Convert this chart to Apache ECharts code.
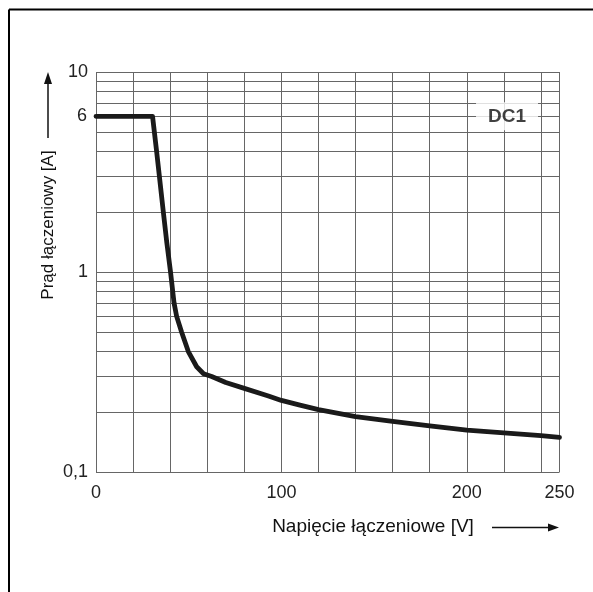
<!DOCTYPE html>
<html>
<head>
<meta charset="utf-8">
<script src="https://cdn.jsdelivr.net/npm/echarts@6/dist/echarts.min.js"></script>
<style>
html,body{margin:0;padding:0;background:#fff;}
#c{width:593px;height:592px;}
</style>
</head>
<body>
<div id="c"></div>
<script>
// ---- data ----
const voltage = [0, 30.5, 32.7, 34.2, 36.3, 38.2, 40.2, 42.1, 43.5, 46.2, 49.8, 54.3, 58, 62.4, 70, 80, 93, 100, 110, 120, 140, 160, 180, 200, 220, 240, 250];
const current = [6, 6, 4, 3, 2, 1.4, 1, 0.7, 0.6, 0.5, 0.4, 0.336, 0.31, 0.3, 0.28, 0.262, 0.24, 0.228, 0.216, 0.205, 0.189, 0.179, 0.17, 0.162, 0.157, 0.152, 0.149];
const xTickLabels = [0, 100, 200, 250];
const yTickLabels = {"0.1": "0,1", "1": "1", "10": "10"};
const minorLines = [0.2, 0.3, 0.4, 0.5, 0.6, 0.7, 0.8, 0.9, 2, 3, 4, 5, 6, 7, 8, 9];
const minorLabels = {"6": "6"};
const seriesName = "DC1";
const seriesLabelAt = [221.7, 6];
const xTitle = "Napięcie łączeniowe [V]";
const yTitle = "Prąd łączeniowy [A]";

const FONT = "'Liberation Sans', Arial, sans-serif";
const GRID = '#666';

const chart = echarts.init(document.getElementById('c'), null, {renderer: 'canvas'});
chart.setOption({
  animation: false,
  backgroundColor: '#fff',
  grid: {left: 96, right: 33.5, top: 72, bottom: 120, containLabel: false, outerBoundsMode: 'none'},
  xAxis: {
    type: 'value', min: 0, max: 250, interval: 20,
    axisLine: {show: false}, axisTick: {show: false},
    splitLine: {show: true, lineStyle: {color: GRID, width: 1}},
    axisLabel: {
      show: true, margin: 12, color: '#222', fontFamily: FONT, fontSize: 18,
      showMaxLabel: true,
      formatter: v => xTickLabels.indexOf(Math.round(v)) >= 0 ? String(Math.round(v)) : ''
    }
  },
  yAxis: {
    type: 'log', logBase: 10, min: 0.1, max: 10,
    axisLine: {show: false}, axisTick: {show: false},
    splitLine: {show: true, lineStyle: {color: GRID, width: 1}},
    axisLabel: {
      margin: 8, color: '#222', fontFamily: FONT, fontSize: 18,
      formatter: v => { const k = String(parseFloat(v.toPrecision(6))); return yTickLabels[k] || ''; }
    }
  },
  series: [
    {
      type: 'line', data: [], z: 1, silent: true,
      markLine: {
        silent: true, symbol: 'none', animation: false, z: 1,
        lineStyle: {color: GRID, width: 1, type: 'solid'},
        label: {
          show: true, position: 'start', distance: 9, color: '#222', fontFamily: FONT, fontSize: 18,
          formatter: p => minorLabels[String(p.value)] || ''
        },
        emphasis: {disabled: true},
        data: minorLines.map(v => ({yAxis: v}))
      }
    },
    {
      type: 'line', z: 3, silent: true,
      data: voltage.map((v, i) => [v, current[i]]),
      showSymbol: false, symbol: 'none', smooth: false,
      lineStyle: {color: '#1a1a1a', width: 4.8, cap: 'round', join: 'round'}
    },
    {
      type: 'scatter', z: 6, silent: true, symbolSize: 0,
      data: [seriesLabelAt],
      label: {
        show: true, position: 'inside', formatter: seriesName,
        backgroundColor: '#fff', padding: [5, 12, 4, 12],
        color: '#111', fontFamily: FONT, fontSize: 19, fontWeight: 'bold'
      }
    }
  ],
  graphic: [
    {type: 'line', shape: {x1: 9, y1: 9.5, x2: 593, y2: 9.5}, style: {stroke: '#000', lineWidth: 2}},
    {type: 'line', shape: {x1: 9, y1: 9.5, x2: 9, y2: 592}, style: {stroke: '#000', lineWidth: 2}},
    {type: 'text', x: 373, y: 527, style: {text: xTitle, font: '19px ' + FONT, fill: '#111', textAlign: 'center', textVerticalAlign: 'middle'}},
    {type: 'line', shape: {x1: 492, y1: 527.5, x2: 550, y2: 527.5}, style: {stroke: '#111', lineWidth: 1.5}},
    {type: 'polygon', shape: {points: [[559, 527.5], [548, 523.5], [548, 531.5]]}, style: {fill: '#111'}},
    {type: 'text', x: 48, y: 225, rotation: Math.PI / 2, style: {text: yTitle, font: '17px ' + FONT, fill: '#111', textAlign: 'center', textVerticalAlign: 'middle'}},
    {type: 'line', shape: {x1: 48, y1: 138, x2: 48, y2: 82}, style: {stroke: '#111', lineWidth: 1.5}},
    {type: 'polygon', shape: {points: [[48, 72], [44, 84], [52, 84]]}, style: {fill: '#111'}}
  ]
});
</script>
</body>
</html>
